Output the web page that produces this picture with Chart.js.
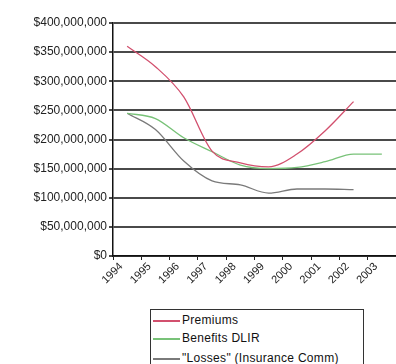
<!DOCTYPE html>
<html>
<head>
<meta charset="utf-8">
<script src="https://cdn.jsdelivr.net/npm/chart.js@4/dist/chart.umd.min.js"></script>
<style>
    html, body { margin: 0; padding: 0; background: #fff; overflow: hidden; }
    #wrap { position: relative; width: 396px; height: 364px; }
    #chart { position: absolute; left: 0; top: 0; }
    .legend {
        position: absolute; left: 150px; top: 309px; width: 214px; height: 70px;
        border: 1px solid #333; box-sizing: border-box;
        font-family: "Liberation Sans", Arial, sans-serif; font-size: 12px; color: #111;
        letter-spacing: 0.3px;
    }
    .legend div { position: absolute; left: 2px; height: 14px; line-height: 14px; white-space: nowrap; }
    .legend span.swatch { display: inline-block; width: 27px; height: 2px; vertical-align: middle; margin-right: 2px; }
</style>
</head>
<body>
<div id="wrap">
    <canvas id="chart" width="396" height="305"></canvas>
    <div class="legend" id="legend"></div>
</div>
<script>
// Chart data
const years = ['1994', '1995', '1996', '1997', '1998', '1999', '2000', '2001', '2002', '2003'];
const premiums = [360000000, 325000000, 273000000, 180000000, 160000000, 153000000, 175000000, 215000000, 265000000, null];
const benefitsDLIR = [245000000, 236000000, 203000000, 179000000, 156000000, 150000000, 152000000, 162000000, 175000000, 175000000];
const losses = [245000000, 217000000, 163000000, 129000000, 122000000, 108000000, 115000000, 115000000, 114000000, null];
const yTicks = [0, 50000000, 100000000, 150000000, 200000000, 250000000, 300000000, 350000000, 400000000];

const seriesNames = ['Premiums', 'Benefits DLIR', '"Losses" (Insurance Comm)'];
const seriesColors = ['#d2506e', '#78c278', '#7a7a7a'];

const fontFamily = '"Liberation Sans", Arial, sans-serif';

const fmtMoney = v => '$' + Number(v).toLocaleString('en-US');

const datasets = [premiums, benefitsDLIR, losses].map((data, i) => ({
    label: seriesNames[i],
    data: data,
    borderColor: seriesColors[i],
    backgroundColor: seriesColors[i],
    borderWidth: 1.3,
    pointRadius: 0,
    tension: 0.4,
    cubicInterpolationMode: 'monotone',
    spanGaps: false
}));

new Chart(document.getElementById('chart'), {
    type: 'line',
    data: { labels: years, datasets: datasets },
    options: {
        responsive: false,
        animation: false,
        layout: { padding: { top: 23, right: 0, bottom: 0, left: 0 } },
        plugins: { legend: { display: false }, tooltip: { enabled: false } },
        scales: {
            x: {
                offset: true,
                grid: { display: true, drawOnChartArea: false, drawTicks: true, tickLength: 4, offset: true, color: '#222', lineWidth: 1 },
                border: { display: true, color: '#111', width: 1.5 },
                ticks: {
                    color: '#222', font: { family: fontFamily, size: 11 },
                    maxRotation: 45, minRotation: 45, autoSkip: false, padding: 0, labelOffset: -6
                },
                afterFit: scale => { scale.height = 49; }
            },
            y: {
                min: 0, max: 400000000,
                afterBuildTicks: scale => { scale.ticks = yTicks.map(v => ({ value: v })); },
                grid: { color: '#4a4a4a', lineWidth: 2, tickLength: 4, drawTicks: true },
                border: { display: true, color: '#111', width: 1.5 },
                ticks: {
                    color: '#222', font: { family: fontFamily, size: 12 }, padding: 2,
                    callback: v => fmtMoney(v)
                },
                afterFit: scale => { scale.width = 113; }
            }
        }
    }
});

// Legend box below the chart
const legend = document.getElementById('legend');
const rowTops = [3, 21, 41];
seriesNames.forEach((name, i) => {
    const row = document.createElement('div');
    row.style.top = rowTops[i] + 'px';
    const sw = document.createElement('span');
    sw.className = 'swatch';
    sw.style.background = seriesColors[i];
    row.appendChild(sw);
    row.appendChild(document.createTextNode(name));
    legend.appendChild(row);
});
</script>
</body>
</html>
